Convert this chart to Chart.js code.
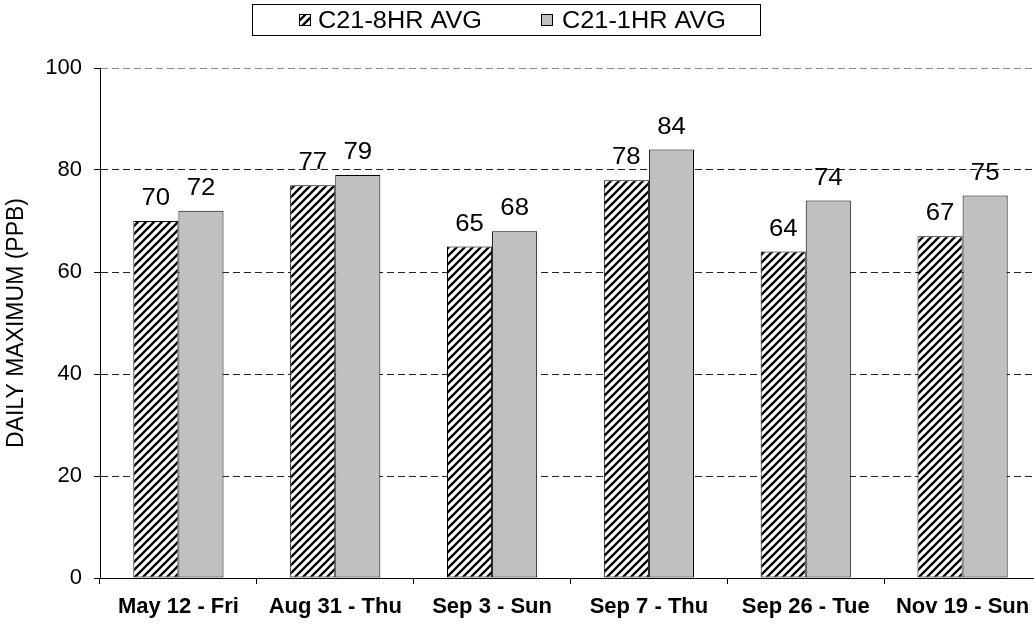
<!DOCTYPE html>
<html>
<head>
<meta charset="utf-8">
<script src="https://cdn.jsdelivr.net/npm/chart.js@4.4.1/dist/chart.umd.min.js"></script>
<style>
  html, body { margin: 0; padding: 0; background: #fff; }
  #wrap { width: 1034px; height: 625px; overflow: hidden; position: relative; }
  canvas { display: block; }
</style>
</head>
<body>
<div id="wrap"><canvas id="c" width="1050" height="625"></canvas></div>
<script>
// Daily maximum ozone readings (ppb) at site C21
const categories = ['May 12 - Fri', 'Aug 31 - Thu', 'Sep 3 - Sun', 'Sep 7 - Thu', 'Sep 26 - Tue', 'Nov 19 - Sun'];
const avg8hr = [70, 77, 65, 78, 64, 67];
const avg1hr = [72, 79, 68, 84, 74, 75];
const seriesNames = ['C21-8HR AVG', 'C21-1HR AVG'];
const yTickValues = [0, 20, 40, 60, 80, 100];
const yTitle = 'DAILY MAXIMUM (PPB)';

const FONT = '"Liberation Sans", Arial, Helvetica, sans-serif';

// diagonal black-on-white hatch for the 8-hour series
function makeHatch() {
  const c = document.createElement('canvas');
  c.width = 8; c.height = 8;
  const g = c.getContext('2d');
  g.fillStyle = '#fff';
  g.fillRect(0, 0, 8, 8);
  g.strokeStyle = '#000';
  g.lineWidth = 2.3;
  g.beginPath();
  g.moveTo(-2, 10); g.lineTo(10, -2);
  g.moveTo(-6, 6); g.lineTo(6, -6);
  g.moveTo(2, 14); g.lineTo(14, 2);
  g.stroke();
  return g.createPattern(c, 'repeat');
}
const ctx = document.getElementById('c').getContext('2d');
const hatch = makeHatch();
const fills = [hatch, '#c0c0c0'];

// value labels above each bar
const valueLabels = {
  id: 'valueLabels',
  afterDatasetsDraw(chart) {
    const c = chart.ctx;
    chart.data.datasets.forEach((ds, i) => {
      const meta = chart.getDatasetMeta(i);
      meta.data.forEach((bar, j) => {
        c.save();
        c.font = '23px ' + FONT;
        c.fillStyle = '#000';
        c.textAlign = 'center';
        c.textBaseline = 'alphabetic';
        c.translate(bar.x, bar.y - 16);
        c.scale(1.12, 1);
        c.fillText(String(ds.data[j]), 0, 0);
        c.restore();
      });
    });
  }
};

// boxed legend across the top
const boxedLegend = {
  id: 'boxedLegend',
  afterDraw(chart) {
    const c = chart.ctx;
    c.save();
    c.strokeStyle = '#000';
    c.lineWidth = 1;
    c.strokeRect(252.5, 4.5, 508, 31);
    const items = [{ sx: 299, tx: 318 }, { sx: 541, tx: 562 }];
    chart.data.datasets.forEach((ds, i) => {
      const it = items[i];
      c.fillStyle = ds.backgroundColor;
      c.fillRect(it.sx, 14, 12, 12);
      c.strokeStyle = '#000';
      c.strokeRect(it.sx + 0.5, 14.5, 11, 11);
      c.save();
      c.fillStyle = '#000';
      c.font = '23px ' + FONT;
      c.textAlign = 'left';
      c.textBaseline = 'alphabetic';
      c.translate(it.tx, 28);
      c.scale(1.1, 1);
      c.fillText(ds.label, 0, 0);
      c.restore();
    });
    c.restore();
  }
};

new Chart(ctx, {
  type: 'bar',
  data: {
    labels: categories,
    datasets: [
      { label: seriesNames[0], data: avg8hr, backgroundColor: fills[0] },
      { label: seriesNames[1], data: avg1hr, backgroundColor: fills[1] }
    ]
  },
  options: {
    responsive: false,
    animation: false,
    devicePixelRatio: 1,
    layout: { padding: { top: 68, right: 9, left: 0, bottom: 0 } },
    datasets: {
      bar: {
        borderColor: '#000',
        borderWidth: 1,
        borderSkipped: false,
        barPercentage: 1,
        categoryPercentage: 0.575
      }
    },
    plugins: {
      legend: { display: false },
      tooltip: { enabled: false }
    },
    scales: {
      x: {
        offset: true,
        afterFit(scale) { scale.height = 47; },
        grid: {
          offset: true,
          drawOnChartArea: false,
          drawTicks: true,
          tickLength: 6,
          tickColor: '#000',
          tickBorderDash: []
        },
        border: { display: true, color: '#000', width: 1 },
        ticks: {
          color: '#000',
          padding: 10,
          maxRotation: 0,
          autoSkip: false,
          font: { family: FONT, size: 22, weight: 'bold' }
        }
      },
      y: {
        min: 0,
        max: 100,
        afterFit(scale) { scale.width = 100; },
        afterBuildTicks(scale) { scale.ticks = yTickValues.map(v => ({ value: v })); },
        grid: {
          color: c => c.tick && c.tick.value === 0 ? 'rgba(0,0,0,0)' : (c.tick && c.tick.value === 100 ? '#8a8a8a' : '#222'),
          lineWidth: 1,
          drawTicks: true,
          tickLength: 6,
          tickColor: '#000',
          tickBorderDash: []
        },
        border: { display: true, color: '#000', width: 1, dash: [7, 4] },
        ticks: {
          color: '#000',
          padding: 12,
          font: { family: FONT, size: 22 }
        },
        title: {
          display: true,
          text: yTitle,
          color: '#000',
          padding: { top: 3, bottom: 4 },
          font: { family: FONT, size: 23 }
        }
      }
    }
  },
  plugins: [valueLabels, boxedLegend]
});
</script>
</body>
</html>
